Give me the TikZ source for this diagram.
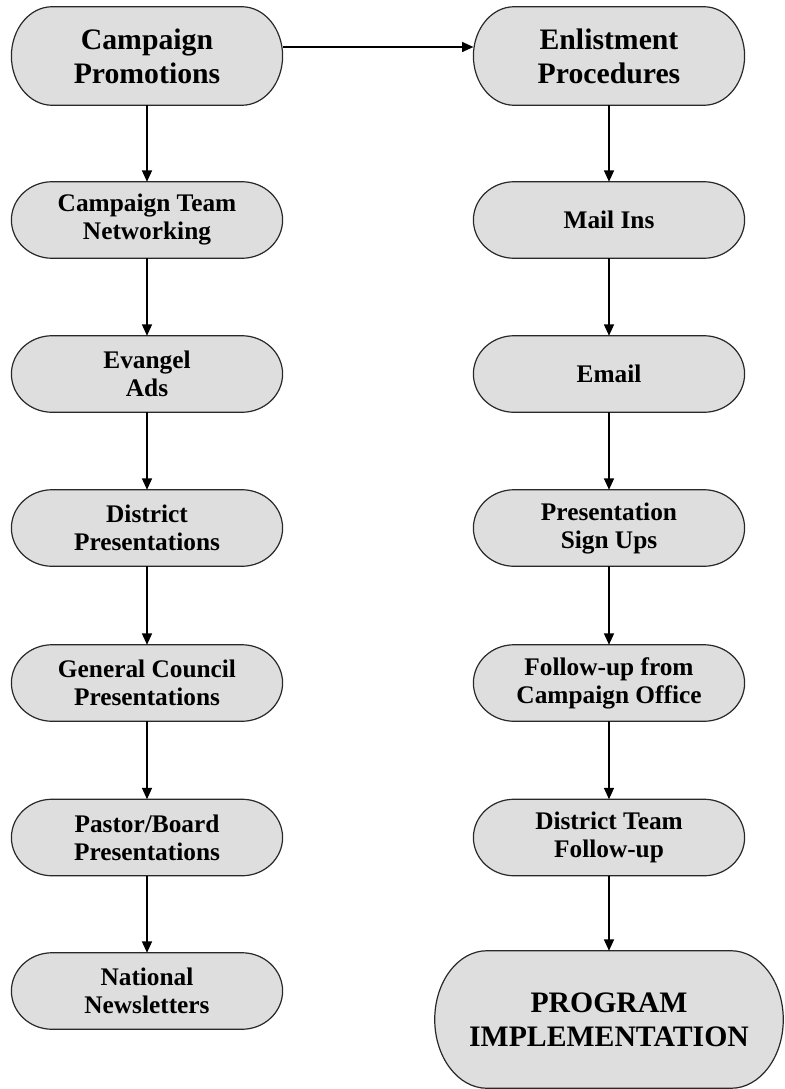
\documentclass[tikz,border=0pt]{standalone}
\usepackage{fontspec}
\setmainfont{Liberation Serif}
\usetikzlibrary{arrows.meta,positioning,calc,backgrounds}
\definecolor{boxgray}{RGB}{222,222,222}
\definecolor{boxline}{RGB}{40,40,40}

\tikzset{
  flowbox/.style={rectangle, minimum width=203pt, minimum height=57pt, inner sep=2pt, align=center, font=\fontsize{19}{21}\selectfont\bfseries},
  headbox/.style={flowbox, minimum height=73.5pt, font=\fontsize{22.3}{25.5}\selectfont\bfseries},
  endbox/.style={headbox, minimum width=261pt, minimum height=102.75pt},
  flowarrow/.style={-{Triangle[length=8.5pt,width=7.5pt]}, line width=1pt},
  termline/.style={draw=boxline, line width=0.9pt, fill=boxgray}
}

\begin{document}
\begin{tikzpicture}[x=0.75pt,y=0.75pt]
  \useasboundingbox (0,0) rectangle (785,-1089);

  % Draw promotion column
  \node[headbox] (promo) at (147,-56) {Campaign\\Promotions};
  \node[flowbox] (team) at (147,-220) {Campaign Team\\Networking};
  \node[flowbox] (evangel) at (147,-374) {Evangel\\Ads};
  \node[flowbox] (district) at (147,-528) {District\\Presentations};
  \node[flowbox] (council) at (147,-683) {General Council\\Presentations};
  \node[flowbox] (pastor) at (147,-837.5) {Pastor/Board\\Presentations};
  \node[flowbox] (national) at (147,-991) {National\\Newsletters};

  % Draw enlistment column
  \node[headbox] (enlist) at (609,-56) {Enlistment\\Procedures};
  \node[flowbox] (mail) at (609,-220) {Mail Ins};
  \node[flowbox] (email) at (609,-374) {Email};
  \node[flowbox] (signup) at (609,-528) {Presentation\\Sign Ups};
  \node[flowbox] (office) at (609,-683) {Follow-up from\\Campaign Office};
  \node[flowbox] (dteam) at (609,-837.5) {District Team\\Follow-up};
  \node[endbox] (program) at (609,-1019.5) {PROGRAM\\IMPLEMENTATION};

  % Draw terminator outlines behind the texts
  \begin{scope}[on background layer]
    \foreach \b in {promo,team,evangel,district,council,pastor,national,enlist,mail,email,signup,office,dteam,program}
      \path[termline] let \p1=(\b.north west), \p2=(\b.south east),
        \n1={0.15*(\x2-\x1)}, \n2={(\y1-\y2)/2} in
        (\x1+\n1,\y1) -- (\x2-\n1,\y1)
        arc[start angle=90, end angle=-90, x radius=\n1, y radius=\n2]
        -- (\x1+\n1,\y2)
        arc[start angle=270, end angle=90, x radius=\n1, y radius=\n2] -- cycle;
  \end{scope}

  % Draw connections
  \draw[flowarrow] ($(promo.east)+(0,9)$) -- ($(enlist.west)+(0,9)$);
  \draw[flowarrow] (promo) -- (team);
  \draw[flowarrow] (team) -- (evangel);
  \draw[flowarrow] (evangel) -- (district);
  \draw[flowarrow] (district) -- (council);
  \draw[flowarrow] (council) -- (pastor);
  \draw[flowarrow] (pastor) -- (national);
  \draw[flowarrow] (enlist) -- (mail);
  \draw[flowarrow] (mail) -- (email);
  \draw[flowarrow] (email) -- (signup);
  \draw[flowarrow] (signup) -- (office);
  \draw[flowarrow] (office) -- (dteam);
  \draw[flowarrow] (dteam) -- (program);
\end{tikzpicture}
\end{document}
